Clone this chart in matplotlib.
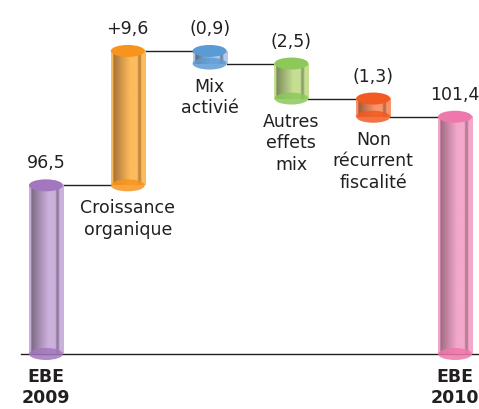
import numpy as np
import matplotlib.pyplot as plt
from matplotlib.patches import Ellipse
from matplotlib.colors import to_rgb

categories = ['EBE\n2009', 'Croissance\norganique', 'Mix\nactivié',
              'Autres\neffets\nmix', 'Non\nrécurrent\nfiscalité', 'EBE\n2010']
values = [96.5, 9.6, -0.9, -2.5, -1.3, 101.4]
value_labels = ['96,5', '+9,6', '(0,9)', '(2,5)', '(1,3)', '101,4']
is_total = [True, False, False, False, False, True]

top_colors = ['#a377bd', '#f7941d', '#5b9bd5', '#8cc85a', '#f15a22', '#ee78ab']
light_colors = ['#cbb0dc', '#fdbb5c', '#b6cae8', '#c5df92', '#f7956a', '#f3a8cb']
dark_colors = ['#7d6a86', '#a8733a', '#5e6875', '#7c8a5c', '#a85a3a', '#a06a82']
base = 84.45  # value where the (broken) axis starts

fig = plt.figure(figsize=(4.79, 4.09), dpi=100)
ax = fig.add_axes([0, 0, 1, 1])
ax.set_xlim(-0.562, 5.293)
ax.set_ylim(80.52, 109.74)
ax.axis('off')

w = 0.416
eh = 0.857


def gradient(dark, light, n=80):
    d = np.array(to_rgb(dark))
    l = np.array(to_rgb(light))
    pts = [(0.0, 1.0), (0.05, 1.0), (0.07, 0.0), (0.3, 0.5), (0.55, 1.0),
           (0.76, 1.0), (0.79, 0.3), (0.85, 0.3), (0.88, 1.0), (1.0, 1.0)]
    u = np.linspace(0, 1, n)
    t = np.interp(u, [p[0] for p in pts], [p[1] for p in pts])
    rgb = d[None, :] * (1 - t[:, None]) + l[None, :] * t[:, None]
    return rgb[None, :, :]


running = 0
levels = []
for i, v in enumerate(values):
    if is_total[i]:
        lo, hi = base, v
        running = v
    else:
        lo, hi = sorted([running, running + v])
        running = running + v
    levels.append(running)
    x = i
    ax.imshow(gradient(dark_colors[i], light_colors[i]), extent=[x - w / 2, x + w / 2, lo, hi],
              aspect='auto', zorder=2, interpolation='bilinear')
    ax.add_patch(Ellipse((x, lo), w, eh, color=top_colors[i], alpha=0.85, zorder=3, lw=0))
    ax.add_patch(Ellipse((x, hi), w, eh, color=top_colors[i], zorder=4, lw=0))

    ax.annotate(value_labels[i], (x, hi), xytext=(0, 22), textcoords='offset pixels',
                ha='center', va='center', fontsize=12.5, color='#231f20')
    if is_total[i]:
        ax.annotate(categories[i], (x, base), xytext=(0, -14), textcoords='offset pixels',
                    ha='center', va='top', fontsize=12.5, fontweight='bold',
                    color='#231f20', linespacing=1.25)
    else:
        ax.annotate(categories[i], (x, lo), xytext=(0, -14), textcoords='offset pixels',
                    ha='center', va='top', fontsize=12.5, color='#231f20', linespacing=1.25)

# connectors
for i in range(len(values) - 1):
    ax.plot([i + w / 2, i + 1 - w / 2], [levels[i], levels[i]], color='#231f20', lw=1, zorder=1)

ax.plot([-0.305, 5.293], [base, base], color='#231f20', lw=1, zorder=1)

fig.savefig('out.png', dpi=100)
